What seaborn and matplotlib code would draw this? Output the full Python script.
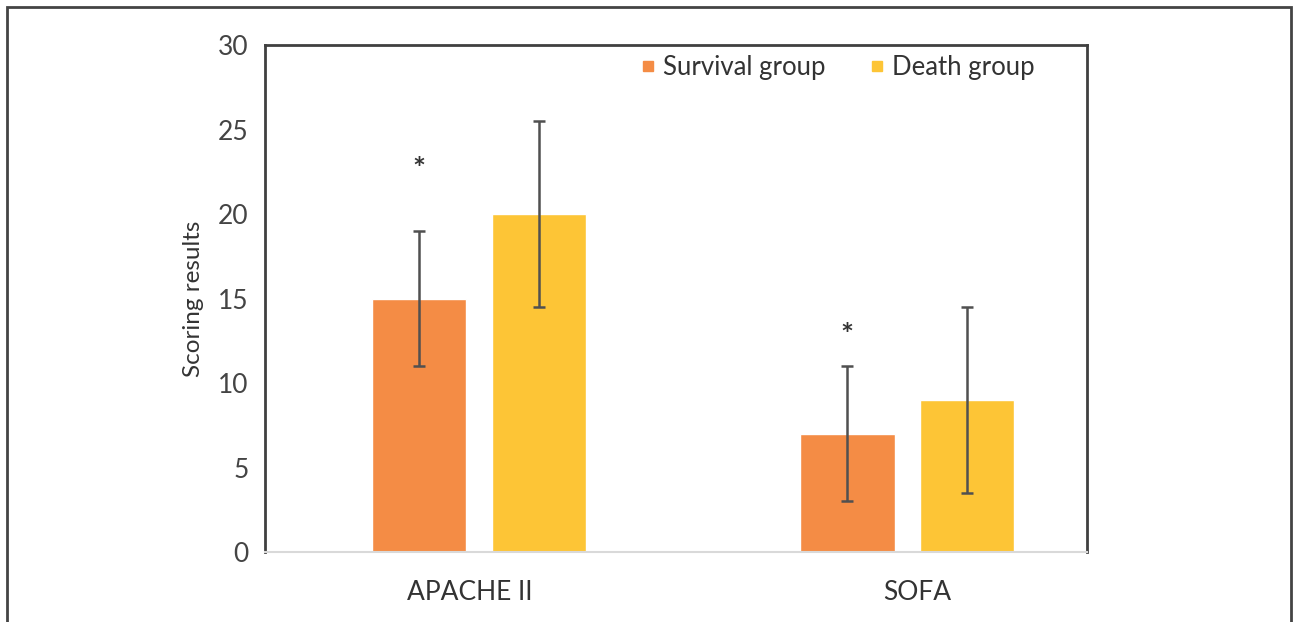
import numpy as np
import pandas as pd
import matplotlib
matplotlib.use("Agg")
import matplotlib.pyplot as plt
import matplotlib.transforms as mtransforms
from matplotlib.patches import Rectangle
from matplotlib.lines import Line2D
import seaborn as sns

# Scores per index and outcome group
scores = ["APACHE II", "SOFA"]
groups = ["Survival group", "Death group"]
survival_mean = [15, 7]
survival_sd = [4, 4]
death_mean = [20, 9]
death_sd = [5.5, 5.5]
star_y = [22.6, 12.8]

colors = ["#F48C45", "#FDC536"]

df = pd.DataFrame({
    "score": scores * 2,
    "group": [groups[0]] * 2 + [groups[1]] * 2,
    "value": survival_mean + death_mean,
    "sd": survival_sd + death_sd,
})

sns.set_theme(style="white")
plt.rcParams["font.family"] = ["Lato", "DejaVu Sans"]

fig = plt.figure(figsize=(12.94, 6.22), dpi=100)
ax = fig.add_axes([265 / 1294, 1 - 552 / 622, (1087 - 265) / 1294, (552 - 45) / 622])

sns.barplot(data=df, x="score", y="value", hue="group", order=scores,
            hue_order=groups, palette=colors, width=0.56, gap=0.21,
            errorbar=None, ax=ax, saturation=1, legend=False)

# Error bars placed at each bar's centre
for patch_group, grp in zip([ax.patches[:2], ax.patches[2:4]], groups):
    sub = df[df["group"] == grp].set_index("score").loc[scores]
    xs = [p.get_x() + p.get_width() / 2 for p in patch_group]
    ax.errorbar(xs, sub["value"], yerr=sub["sd"], fmt="none",
                ecolor="#505050", elinewidth=1.8, capsize=4.5, capthick=1.8,
                zorder=5)

# Significance markers above the survival bars
for p, y in zip(ax.patches[:2], star_y):
    ax.text(p.get_x() + p.get_width() / 2, y, "*", ha="center", va="center",
            fontsize=22, fontweight="bold", color="#333333")

ax.set_ylim(0, 30)
ax.set_xlim(-0.5, 1.42)
ax.set_yticks(range(0, 31, 5))
ax.tick_params(axis="y", labelsize=19, labelcolor="#444444", length=0, pad=12)
ax.tick_params(axis="x", labelsize=19, labelcolor="#333333", length=0, pad=20)
ax.set_xlabel("")
ax.set_ylabel("Scoring results", fontsize=17.5, color="#333333", labelpad=10)

# Nudge the category labels slightly
for lbl, dx in zip(ax.get_xticklabels(), [-9, 10]):
    lbl.set_transform(lbl.get_transform() +
                      mtransforms.ScaledTranslation(dx / 100, 0, fig.dpi_scale_trans))

for side in ["left", "top", "right"]:
    ax.spines[side].set_visible(True)
    ax.spines[side].set_color("#404040")
    ax.spines[side].set_linewidth(2)
ax.spines["bottom"].set_color("#d9d9d9")
ax.spines["bottom"].set_linewidth(1.5)

handles = [Line2D([], [], marker="s", linestyle="none", markersize=7,
                  markerfacecolor=c, markeredgecolor=c) for c in colors]
ax.legend(handles, groups, loc="upper right", bbox_to_anchor=(0.965, 1.025),
          ncol=2, frameon=False, fontsize=18.5, handletextpad=0.0,
          handlelength=1.2, columnspacing=1.4, labelcolor="#333333")

# Outer figure frame
fig.patches.append(Rectangle((7 / 1294, -0.05), (1291 - 7) / 1294, 1.05 - 7 / 622,
                             transform=fig.transFigure, fill=False,
                             edgecolor="#444444", linewidth=2))

fig.savefig("out.png", dpi=100)
